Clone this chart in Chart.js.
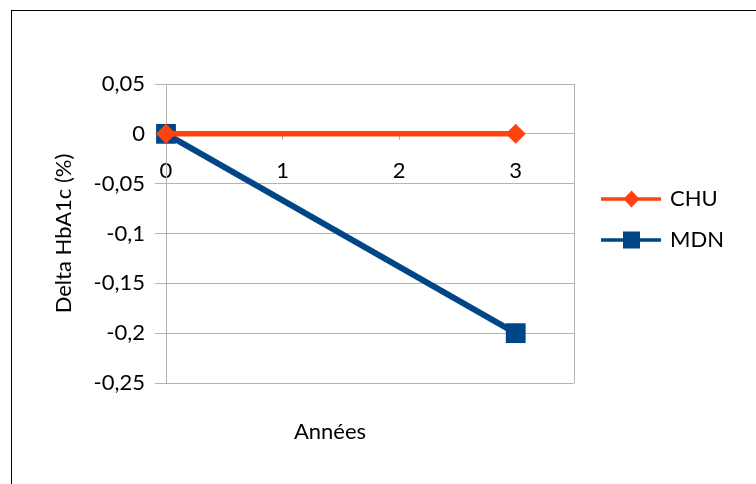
<!DOCTYPE html>
<html>
<head>
<meta charset="utf-8">
<script src="https://cdn.jsdelivr.net/npm/chart.js@4.4.1/dist/chart.umd.min.js"></script>
<style>
html, body { margin: 0; padding: 0; background: #ffffff; }
#wrap { position: relative; width: 756px; height: 484px; overflow: hidden; background: #ffffff; }
#frame { position: absolute; left: 11px; top: 10px; width: 800px; height: 500px; border-left: 1px solid #000; border-top: 1px solid #000; }
#c { position: absolute; left: 0; top: 0; }
</style>
</head>
<body>
<div id="wrap"><div id="frame"></div><canvas id="c" width="756" height="484"></canvas></div>
<script>
// ---- data ----
const years = [0, 3];
const chuValues = [0, 0];
const mdnValues = [0, -0.2];
const seriesNames = ['CHU', 'MDN'];
const xTickValues = [0, 1, 2, 3];
const xAxisMax = 3.5;
const yTickValues = [-0.25, -0.2, -0.15, -0.1, -0.05, 0, 0.05];
const xTitle = 'Années';
const yTitle = 'Delta HbA1c (%)';

// ---- styles ----
const ORANGE = '#ff420e';
const BLUE = '#004586';
const GRID = '#b3b3b3';
const FONT_FAMILY = "Lato, 'Noto Sans', sans-serif";
const FONT_SIZE = 22;

Chart.defaults.font.family = FONT_FAMILY;
Chart.defaults.font.size = FONT_SIZE;
Chart.defaults.color = '#000';

function makeIcon(color, shape) {
  const c = document.createElement('canvas');
  c.width = 70; c.height = 22;
  const g = c.getContext('2d');
  g.strokeStyle = color; g.lineWidth = 3.5;
  g.beginPath(); g.moveTo(10, 11); g.lineTo(70, 11); g.stroke();
  g.fillStyle = color;
  const cx = 40.5, cy = 11;
  if (shape === 'diamond') {
    g.beginPath(); g.moveTo(cx - 8, cy); g.lineTo(cx, cy - 8.5); g.lineTo(cx + 8, cy); g.lineTo(cx, cy + 8.5); g.closePath(); g.fill();
  } else {
    g.fillRect(cx - 8.5, cy - 8.5, 17, 17);
  }
  return c;
}
const legendIcons = [makeIcon(ORANGE, 'diamond'), makeIcon(BLUE, 'square')];

// legend geometry: plot right edge should sit at x = 574
const LEG_PAD = 19, LEG_BOX = 66;
const mctx = document.createElement('canvas').getContext('2d');
mctx.font = FONT_SIZE + 'px ' + FONT_FAMILY;
const maxLabelW = Math.max.apply(null, seriesNames.map(s => mctx.measureText(s).width));
const legendW = LEG_PAD + LEG_BOX + FONT_SIZE / 2 + maxLabelW + 10;
const padRight = Math.max(0, 756 - 574 - legendW);

const toPoints = (xs, ys) => xs.map((x, i) => ({ x: x, y: ys[i] }));

new Chart(document.getElementById('c'), {
  type: 'line',
  data: {
    datasets: [
      {
        label: seriesNames[0],
        data: toPoints(years, chuValues),
        borderColor: ORANGE, backgroundColor: ORANGE,
        borderWidth: 5.5, tension: 0,
        pointStyle: 'rectRot', pointRadius: 10, pointHoverRadius: 10, pointBorderWidth: 0,
        clip: false
      },
      {
        label: seriesNames[1],
        data: toPoints(years, mdnValues),
        borderColor: BLUE, backgroundColor: BLUE,
        borderWidth: 6, tension: 0,
        pointStyle: 'rect', pointRadius: 14, pointHoverRadius: 14, pointBorderWidth: 0,
        clip: false
      }
    ]
  },
  options: {
    responsive: false,
    animation: false,
    events: [],
    layout: { padding: { left: 0, right: padRight, top: 84, bottom: 0 } },
    plugins: {
      tooltip: { enabled: false },
      legend: {
        position: 'right',
        align: 'start',
        fullSize: false,
        title: { display: true, text: '', font: { size: 12 }, padding: { top: 70.6, bottom: 0 } },
        labels: {
          usePointStyle: true,
          pointStyleWidth: LEG_BOX,
          padding: LEG_PAD,
          color: '#000',
          font: { size: FONT_SIZE },
          generateLabels: function (chart) {
            const items = Chart.defaults.plugins.legend.labels.generateLabels(chart);
            items.forEach((it, i) => { it.pointStyle = legendIcons[i]; });
            return items;
          }
        }
      }
    },
    scales: {
      x: {
        type: 'linear',
        position: { y: 0 },
        min: 0,
        max: xAxisMax,
        afterBuildTicks: s => { s.ticks = xTickValues.concat([xAxisMax]).map(v => ({ value: v })); },
        ticks: {
          callback: v => (v === xAxisMax ? '' : String(v)),
          padding: 18, color: '#000', font: { size: FONT_SIZE }, maxRotation: 0, autoSkip: false
        },
        grid: {
          color: ctx => (ctx.tick && (ctx.tick.value === 0 || ctx.tick.value === xAxisMax)) ? GRID : 'rgba(0,0,0,0)',
          tickColor: GRID, tickLength: 6, lineWidth: 1
        },
        border: { color: GRID, width: 1 }
      },
      xTitleAxis: {
        axis: 'x',
        type: 'linear',
        position: 'bottom',
        stack: 'titlerow',
        stackWeight: 0.804,
        display: true,
        ticks: { display: false },
        grid: { display: false, drawTicks: false },
        border: { display: false },
        title: { display: true, text: xTitle, color: '#000', font: { size: FONT_SIZE }, padding: { top: 35.8, bottom: 38.8 } }
      },
      xSpacer: {
        axis: 'x',
        type: 'linear',
        position: 'bottom',
        stack: 'titlerow',
        stackWeight: 0.196,
        display: true,
        ticks: { display: false },
        grid: { display: false, drawTicks: false },
        border: { display: false },
        title: { display: false }
      },
      y: {
        type: 'linear',
        position: 'left',
        min: -0.25,
        max: 0.05,
        afterBuildTicks: s => { s.ticks = yTickValues.map(v => ({ value: v })); },
        afterFit: s => { s.width = 166; },
        ticks: {
          callback: v => String(v).replace('.', ','),
          padding: 10, color: '#000', font: { size: FONT_SIZE }
        },
        grid: { color: GRID, tickColor: GRID, tickLength: 11, lineWidth: 1 },
        border: { color: GRID, width: 1 },
        title: { display: true, text: yTitle, color: '#000', font: { size: FONT_SIZE }, padding: { top: 50.8, bottom: 0 } }
      }
    }
  }
});
</script>
</body>
</html>
